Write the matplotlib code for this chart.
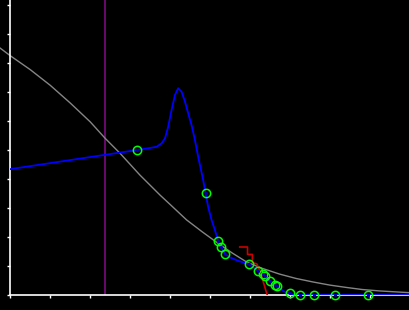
import matplotlib

matplotlib.use('Agg')
import matplotlib.pyplot as plt

# gray reference curve
gray_x = [-0.26, 0.0, 0.5, 1.0, 1.5, 2.0, 2.375, 2.75, 3.24, 3.75, 4.0, 4.41,
          4.8, 5.2, 5.55, 5.91, 6.3, 6.74, 7.15, 7.57, 8.0, 8.41, 8.8, 9.24,
          9.99]
gray_y = [8.52, 8.25, 7.77, 7.23, 6.62, 5.97, 5.40, 4.88, 4.14, 3.44, 3.12,
          2.59, 2.18, 1.78, 1.45, 1.14, 0.92, 0.72, 0.57, 0.45, 0.34, 0.26,
          0.19, 0.14, 0.08]

# blue fitted curve
blue_x = [0.0, 3.17, 3.45, 3.66, 3.785, 3.87, 3.95, 4.035, 4.12, 4.2, 4.285,
          4.37, 4.45, 4.535, 4.62, 4.70, 4.825, 4.885, 4.95, 5.035, 5.12, 5.2,
          5.27, 5.375, 5.49, 5.70, 5.97, 6.2, 6.375, 6.49, 6.67, 6.825, 7.01,
          7.24, 10.0]
blue_y = [4.34, 5.0, 5.06, 5.11, 5.23, 5.40, 5.80, 6.38, 6.90, 7.13, 7.01,
          6.67, 6.27, 5.86, 5.34, 4.77, 3.97, 3.51, 3.04, 2.59, 2.24, 1.86,
          1.66, 1.41, 1.30, 1.18, 1.06, 0.84, 0.66, 0.48, 0.30, 0.14, 0.03,
          0.0, 0.0]

# measured points
pts_x = [3.17, 4.885, 5.2, 5.26, 5.375, 5.97, 6.2, 6.325, 6.375, 6.49, 6.62,
         6.67, 7.01, 7.26, 7.6, 8.125, 8.95]
pts_y = [5.0, 3.51, 1.85, 1.67, 1.41, 1.06, 0.84, 0.71, 0.66, 0.48, 0.34,
         0.30, 0.06, 0.0, 0.0, 0.0, 0.0]

# red step/curve
red_x = [5.74, 5.935, 5.935, 6.055, 6.055, 6.17, 6.255, 6.33, 6.39, 6.43]
red_y = [1.655, 1.655, 1.40, 1.40, 1.12, 1.07, 0.79, 0.45, 0.17, 0.0]

marker_x = 2.375

fig = plt.figure(figsize=(4.1, 3.1), dpi=100, facecolor='black')
ax = fig.add_axes([10.3 / 410, 15 / 310, 1 - 10.3 / 410, 295 / 310])
ax.set_facecolor('black')

ax.axvline(marker_x, color='#7a0a80', lw=1.2, zorder=1)
ax.plot(gray_x, gray_y, color='#858585', lw=1.0, clip_on=False, zorder=2)
ax.plot(blue_x, blue_y, color='#0000ff', lw=1.3, zorder=3)
ax.plot(red_x, red_y, color='#cc0000', lw=1.2, zorder=3)
ax.plot(pts_x, pts_y, 'o', ms=6, mfc='none', mec='#00ff00', mew=1.1,
        clip_on=False, zorder=4)
ax.plot(pts_x, pts_y, 'o', ms=1.2, color='#0000aa', clip_on=False, zorder=4)

ax.set_xlim(0, 10)
ax.set_ylim(0, 295 / 29)
ax.set_xticks(range(0, 11))
ax.set_yticks(range(0, 11))
ax.set_xticklabels([])
ax.set_yticklabels([])
ax.tick_params(colors='white', length=2.5, width=1, direction='out')
for s in ['top', 'right']:
    ax.spines[s].set_visible(False)
for s in ['left', 'bottom']:
    ax.spines[s].set_color('white')
    ax.spines[s].set_linewidth(1.2)

plt.savefig('out.png', facecolor='black')
